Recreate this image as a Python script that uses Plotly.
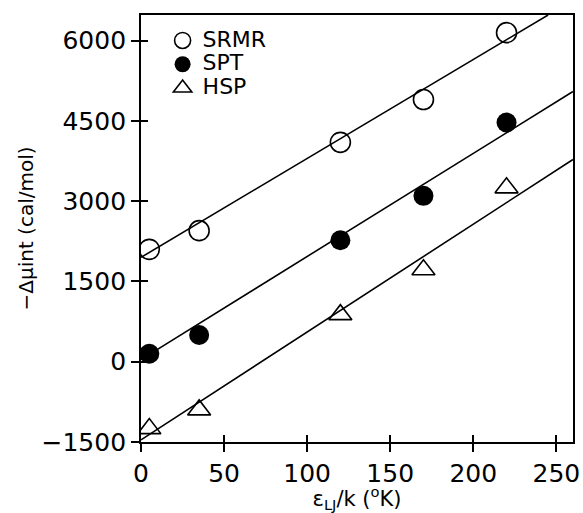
import plotly.graph_objects as go

# data
x_pts = [5, 35, 120, 170, 220]
srmr = [2100, 2450, 4100, 4900, 6150]
spt = [150, 500, 2270, 3100, 4470]
hsp = [-1250, -900, 880, 1720, 3250]

# fitted lines (end points)
line_x_srmr = [0, 245]
line_y_srmr = [1950, 6480]
line_x = [0, 260]
line_y_spt = [40, 5050]
line_y_hsp = [-1460, 3780]

x_ticks = [0, 50, 100, 150, 200, 250]
y_ticks = [-1500, 0, 1500, 3000, 4500, 6000]
x_range = [0, 260]
y_range = [-1500, 6480]
series_names = ["SRMR", "SPT", "HSP"]

FONT = "DejaVu Sans, Verdana, sans-serif"
fig = go.Figure()

for lx, ly in [(line_x_srmr, line_y_srmr), (line_x, line_y_spt), (line_x, line_y_hsp)]:
    fig.add_trace(go.Scatter(x=lx, y=ly, mode="lines", line=dict(color="black", width=1.6),
                             showlegend=False, hoverinfo="skip"))

def lname(s):
    return "<span style='font-size:22px'>" + s + "</span>"

fig.add_trace(go.Scatter(x=x_pts, y=srmr, mode="markers", name=lname(series_names[0]),
                         marker=dict(symbol="circle-open", size=20, color="black", line=dict(width=1.6))))
fig.add_trace(go.Scatter(x=x_pts, y=spt, mode="markers", name=lname(series_names[1]),
                         marker=dict(symbol="circle", size=20, color="black")))
fig.add_trace(go.Scatter(x=x_pts, y=hsp, mode="markers", name=lname(series_names[2]),
                         marker=dict(symbol="triangle-up-open", size=20, color="black", line=dict(width=1.6))))

# dummy trace to activate the overlay axes (inner half of the crossing ticks)
fig.add_trace(go.Scatter(x=[None], y=[None], xaxis="x2", yaxis="y2", showlegend=False, hoverinfo="skip"))

fig.update_layout(
    width=583, height=513,
    margin=dict(l=141, r=10, t=15, b=71, autoexpand=False),
    paper_bgcolor="white", plot_bgcolor="white",
    font=dict(family=FONT, color="black", size=24),
    xaxis=dict(range=x_range, tickvals=x_ticks, showline=True, linecolor="black", linewidth=1.8,
               mirror=True, showgrid=False, zeroline=False, ticks="outside", ticklen=8, tickwidth=1.6,
               tickcolor="black", tickfont=dict(size=25, color="black", family=FONT),
               ticklabeloverflow="allow",
               title=dict(text="\u00a0\u00a0\u00a0\u00a0ε<sub>LJ</sub>/k (<sup>o</sup>K)",
                          font=dict(size=21, family=FONT, color="black"), standoff=14)),
    yaxis=dict(range=y_range, tickvals=y_ticks, showline=True, linecolor="black", linewidth=1.8,
               mirror=True, showgrid=False, zeroline=False, ticks="outside", ticklen=8, tickwidth=1.6,
               tickcolor="black", tickfont=dict(size=25, color="black", family=FONT),
               ticklabeloverflow="allow",
               title=dict(text="−Δμint (cal/mol)", font=dict(size=20, family=FONT, color="#000000"),
                          standoff=3)),
    xaxis2=dict(range=x_range, tickvals=x_ticks, overlaying="x", side="bottom", showticklabels=False,
                ticks="inside", ticklen=7, tickwidth=1.6, tickcolor="black", showgrid=False,
                zeroline=False, showline=False),
    yaxis2=dict(range=y_range, tickvals=y_ticks, overlaying="y", side="left", showticklabels=False,
                ticks="inside", ticklen=7, tickwidth=1.6, tickcolor="black", showgrid=False,
                zeroline=False, showline=False),
    legend=dict(x=0.05, y=0.98, xanchor="left", yanchor="top", bgcolor="rgba(0,0,0,0)",
                font=dict(size=16, color="black", family=FONT), tracegroupgap=0, itemwidth=30),
)

fig.write_html("out.html", config={"displayModeBar": False},
               post_script="document.body.style.margin='0px';")
